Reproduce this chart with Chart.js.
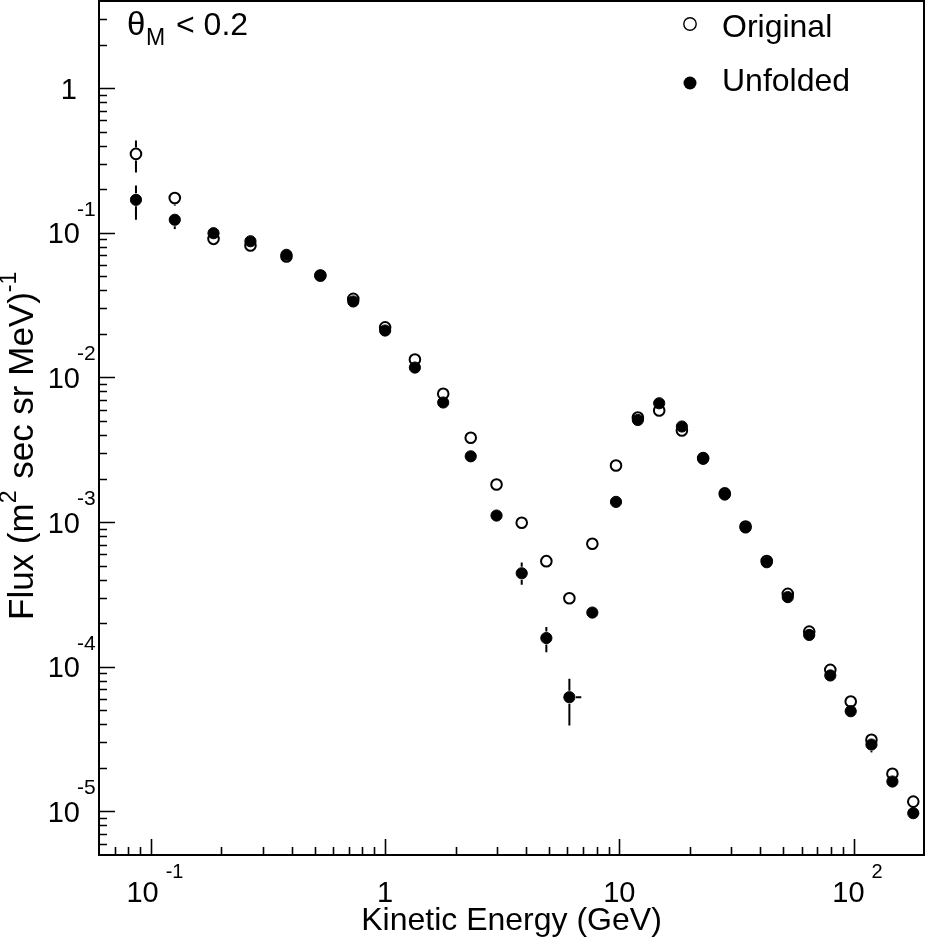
<!DOCTYPE html>
<html>
<head>
<meta charset="utf-8">
<script src="https://cdn.jsdelivr.net/npm/chart.js@4.4.1/dist/chart.umd.min.js"></script>
<style>
html, body { margin: 0; padding: 0; background: #fff; }
canvas { display: block; }
</style>
</head>
<body>
<canvas id="fluxChart" width="926" height="946"></canvas>
<script>
//=========================================
// Data
//=========================================
const energy = [0.0863, 0.1264, 0.185, 0.266, 0.379, 0.529, 0.731, 1.0, 1.34, 1.77,
                2.32, 2.99, 3.83, 4.88, 6.12, 7.67, 9.68, 12.0, 14.8, 18.5,
                22.8, 28.2, 34.6, 42.6, 52.4, 64.7, 79.6, 97.3, 119.3, 146.6, 180];

const original = [0.351, 0.174, 0.0908, 0.0816, 0.0685, 0.0506, 0.0349, 0.0222, 0.0133, 0.00771,
                  0.00383, 0.00182, 0.000989, 0.000537, 0.000298, 0.000708, 0.00246, 0.00528, 0.00591, 0.00430,
                  0.00277, 0.00158, 0.000933, 0.000538, 0.000319, 0.000175, 9.52e-5, 5.75e-5, 3.13e-5, 1.82e-5, 1.17e-5];

const unfolded = [0.169, 0.123, 0.0993, 0.0874, 0.0704, 0.0506, 0.0335, 0.0211, 0.0117, 0.00671,
                  0.00285, 0.00111, 0.000443, 0.000158, 6.16e-5, 0.000237, 0.00138, 0.00508, 0.00663, 0.00458,
                  0.00274, 0.00155, 0.000918, 0.000528, 0.000303, 0.000166, 8.71e-5, 4.93e-5, 2.90e-5, 1.61e-5, 9.73e-6];

// error bars (null = hidden behind the marker)
const originalLo = [0.261, 0.154];
const originalHi = [0.434, 0.190];
const unfoldedLo = [0.123, 0.106, null, null, null, null, null, null, null, null,
                    null, null, 0.000369, 0.000126, 3.93e-5, null, null, null, null, null,
                    null, null, null, null, null, null, null, null, 2.56e-5];
const unfoldedHi = [0.212, 0.136, null, null, null, null, null, null, null, null,
                    null, null, 0.000526, 0.000188, 8.26e-5, null, null, null, null, null,
                    null, null, null, null, null, null, null, null, 3.2e-5];
const unfoldedXHi = [];
unfoldedXHi[14] = 6.88;

// axes
const xMin = 0.06, xMax = 200;
const yMin = 5e-6, yMax = 4;
const xTickValues = [0.1, 1, 10, 100];
const xTickBase   = ["10", "1", "10", "10"];
const xTickExp    = ["-1", "", "", "2"];
const yTickValues = [1e-5, 1e-4, 1e-3, 1e-2, 1e-1, 1];
const yTickBase   = ["10", "10", "10", "10", "10", "1"];
const yTickExp    = ["-5", "-4", "-3", "-2", "-1", ""];

const FONT = '"Liberation Sans", Arial, Helvetica, sans-serif';

function toPoints(values){
    return energy.map((e, i) => ({ x: e, y: values[i] }));
}

//------------------------------------
// ROOT style frame, ticks, labels
//------------------------------------
const rootStyle = {
    id: "rootStyle",

    beforeDatasetsDraw(chart){
        const ctx = chart.ctx;
        const xs = chart.scales.x, ys = chart.scales.y;
        const gap = 6.5;
        ctx.save();
        ctx.strokeStyle = "#000";
        ctx.lineWidth = 2;
        const sets = [
            { vals: original, lo: originalLo, hi: originalHi, xhi: [] },
            { vals: unfolded, lo: unfoldedLo, hi: unfoldedHi, xhi: unfoldedXHi }
        ];
        sets.forEach(s => {
            s.vals.forEach((v, i) => {
                const px = xs.getPixelForValue(energy[i]);
                const py = ys.getPixelForValue(v);
                ctx.beginPath();
                if (s.hi[i] != null){
                    const top = ys.getPixelForValue(s.hi[i]);
                    if (top < py - gap){ ctx.moveTo(px, top); ctx.lineTo(px, py - gap); }
                }
                if (s.lo[i] != null){
                    const bot = ys.getPixelForValue(s.lo[i]);
                    if (bot > py + gap){ ctx.moveTo(px, py + gap); ctx.lineTo(px, bot); }
                }
                if (s.xhi[i] != null){
                    const right = xs.getPixelForValue(s.xhi[i]);
                    ctx.moveTo(px + gap, py); ctx.lineTo(right, py);
                }
                ctx.stroke();
            });
        });
        ctx.restore();
    },

    afterDraw(chart){
        const ctx = chart.ctx;
        const a = chart.chartArea;
        const xs = chart.scales.x, ys = chart.scales.y;
        ctx.save();
        ctx.strokeStyle = "#000";
        ctx.fillStyle = "#000";

        // frame
        ctx.lineWidth = 2;
        ctx.strokeRect(a.left, a.top, a.right - a.left, a.bottom - a.top);

        // ticks
        ctx.lineWidth = 1.6;
        ctx.beginPath();
        for (let k = -6; k <= 1; k++){
            for (let m = 1; m <= 9; m++){
                const v = m * Math.pow(10, k);
                if (v <= yMin || v >= yMax) continue;
                const py = Math.round(ys.getPixelForValue(v)) + 0.5;
                ctx.moveTo(a.left, py);
                ctx.lineTo(a.left + (m === 1 ? 16 : 8), py);
            }
        }
        for (let k = -2; k <= 2; k++){
            for (let m = 1; m <= 9; m++){
                const v = m * Math.pow(10, k);
                if (v <= xMin || v >= xMax) continue;
                const px = Math.round(xs.getPixelForValue(v)) + 0.5;
                ctx.moveTo(px, a.bottom);
                ctx.lineTo(px, a.bottom - (m === 1 ? 16 : 8));
            }
        }
        ctx.stroke();

        // y labels
        ctx.textBaseline = "alphabetic";
        yTickValues.forEach((v, i) => {
            const py = ys.getPixelForValue(v);
            ctx.font = "29px " + FONT;
            if (yTickExp[i] === ""){
                ctx.textAlign = "right";
                ctx.fillText(yTickBase[i], 77, py + 10.5);
            } else {
                ctx.textAlign = "right";
                ctx.fillText(yTickBase[i], 80, py + 10.5);
                ctx.font = "21px " + FONT;
                ctx.textAlign = "left";
                ctx.fillText(yTickExp[i], 77, py - 17);
            }
        });

        // x labels
        xTickValues.forEach((v, i) => {
            const px = xs.getPixelForValue(v);
            ctx.font = "29px " + FONT;
            const wb = ctx.measureText(xTickBase[i]).width;
            if (xTickExp[i] === ""){
                ctx.textAlign = "center";
                ctx.fillText(xTickBase[i], px, 902);
            } else {
                ctx.font = "20px " + FONT;
                const we = ctx.measureText(xTickExp[i]).width;
                const total = wb + 7 + we;
                const x0 = px + 4 - total / 2;
                ctx.textAlign = "left";
                ctx.font = "29px " + FONT;
                ctx.fillText(xTickBase[i], x0, 902);
                ctx.font = "20px " + FONT;
                ctx.fillText(xTickExp[i], x0 + wb + 7, 878);
            }
        });

        // x title
        ctx.font = "32px " + FONT;
        ctx.textAlign = "center";
        ctx.fillText("Kinetic Energy (GeV)", (a.left + a.right) / 2, 930);

        // y title (rotated)
        ctx.save();
        ctx.translate(33, 620);
        ctx.rotate(-Math.PI / 2);
        ctx.textAlign = "left";
        const parts = [
            { t: "Flux (m", f: 35, dy: 0 },
            { t: "2", f: 23, dy: -17 },
            { t: " sec sr MeV)", f: 35, dy: 0 },
            { t: "-1", f: 23, dy: -17 }
        ];
        let cx = 0;
        parts.forEach(p => {
            ctx.font = p.f + "px " + FONT;
            ctx.fillText(p.t, cx, p.dy);
            cx += ctx.measureText(p.t).width + (p.f < 30 ? 2 : 0);
        });
        ctx.restore();

        // theta label
        ctx.textAlign = "left";
        ctx.font = "33px " + FONT;
        ctx.fillText("\u03B8", 127, 35);
        ctx.font = "23px " + FONT;
        ctx.fillText("M", 146, 45);
        ctx.font = "32px " + FONT;
        ctx.fillText("< 0.2", 176, 35);

        // legend
        const ds = chart.data.datasets;
        ctx.lineWidth = 1.4;
        ctx.beginPath();
        ctx.arc(690, 24, 6.2, 0, Math.PI * 2);
        ctx.stroke();
        ctx.beginPath();
        ctx.arc(690, 83, 6.5, 0, Math.PI * 2);
        ctx.fill();
        ctx.font = "32px " + FONT;
        ctx.fillText(ds[1].label, 722, 36.5);
        ctx.fillText(ds[0].label, 722, 91);

        ctx.restore();
    }
};

//------------------------------------
// Chart
//------------------------------------
new Chart(document.getElementById("fluxChart"), {
    type: "scatter",
    data: {
        datasets: [
            {
                label: "Unfolded",
                data: toPoints(unfolded),
                pointStyle: "circle",
                pointRadius: 5.6,
                pointHoverRadius: 5.6,
                borderWidth: 1,
                borderColor: "#000",
                backgroundColor: "#000"
            },
            {
                label: "Original",
                data: toPoints(original),
                pointStyle: "circle",
                pointRadius: 5.3,
                pointHoverRadius: 5.3,
                borderWidth: 2,
                borderColor: "#000",
                backgroundColor: "rgba(0,0,0,0)"
            }
        ]
    },
    options: {
        responsive: false,
        animation: false,
        devicePixelRatio: 1,
        layout: { autoPadding: false, padding: { left: 99, right: 2, top: 1, bottom: 91 } },
        plugins: { legend: { display: false }, tooltip: { enabled: false } },
        scales: {
            x: { type: "logarithmic", min: xMin, max: xMax, display: false },
            y: { type: "logarithmic", min: yMin, max: yMax, display: false }
        }
    },
    plugins: [rootStyle]
});
</script>
</body>
</html>
